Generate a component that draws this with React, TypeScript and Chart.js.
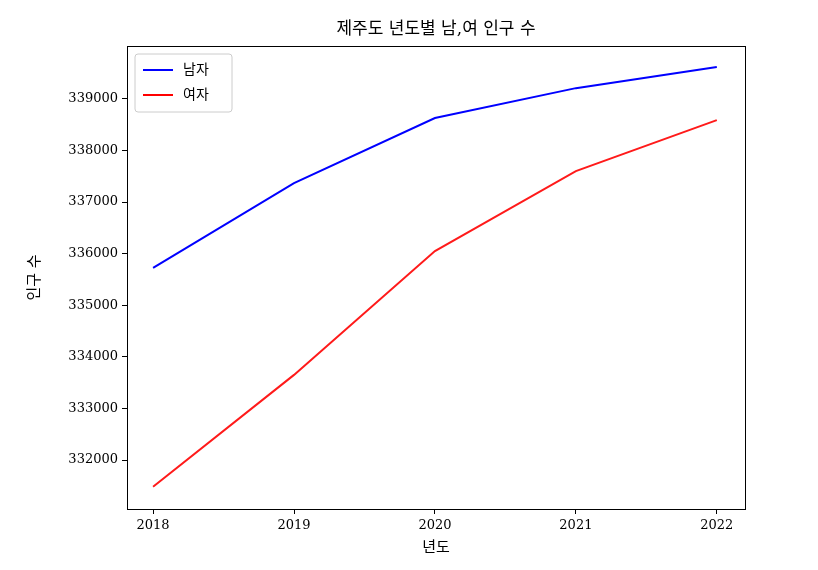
import React, { useEffect, useRef } from 'react';
import { Chart, registerables } from 'chart.js';

Chart.register(...registerables);

const years = [2018, 2019, 2020, 2021, 2022];
const male = [335725, 337370, 338630, 339210, 339620];
const female = [331480, 333650, 336050, 337600, 338590];
const yTicks = [332000, 333000, 334000, 335000, 336000, 337000, 338000, 339000];

const FONT = "'DejaVu Serif', 'Noto Sans CJK KR', serif";

const framePlugin = {
  id: 'frame',
  afterDraw(chart: any) {
    const { ctx, chartArea: a } = chart;
    ctx.save();
    ctx.strokeStyle = '#000';
    ctx.lineWidth = 1;
    ctx.strokeRect(a.left + 0.5, a.top + 0.5, a.right - a.left, a.bottom - a.top);
    ctx.fillStyle = '#000';
    ctx.textAlign = 'center';
    ctx.textBaseline = 'middle';
    ctx.font = `17px ${FONT}`;
    ctx.fillText('제주도 년도별 남,여 인구 수', (a.left + a.right) / 2, 30);
    ctx.font = `15px ${FONT}`;
    ctx.fillText('년도', (a.left + a.right) / 2, 548);
    ctx.save();
    ctx.translate(35, (a.top + a.bottom) / 2);
    ctx.rotate(-Math.PI / 2);
    ctx.fillText('인구 수', 0, 0);
    ctx.restore();
    // legend
    const lx = a.left + 8, ly = a.top + 8;
    ctx.fillStyle = '#fff';
    ctx.strokeStyle = '#ccc';
    ctx.beginPath();
    ctx.roundRect(lx, ly, 97, 58, 3);
    ctx.fill();
    ctx.stroke();
    const items = [['남자', '#0000ff'], ['여자', '#ff0000']];
    ctx.font = `14px ${FONT}`;
    ctx.textAlign = 'left';
    items.forEach(([t, c], i) => {
      const y = ly + 16 + i * 25;
      ctx.strokeStyle = c;
      ctx.lineWidth = 2;
      ctx.beginPath();
      ctx.moveTo(lx + 8, y);
      ctx.lineTo(lx + 38, y);
      ctx.stroke();
      ctx.fillStyle = '#000';
      ctx.fillText(t, lx + 48, y);
    });
    ctx.restore();
  },
};

const App: React.FC = () => {
  const ref = useRef<HTMLCanvasElement>(null);
  useEffect(() => {
    if (!ref.current) return;
    const chart = new Chart(ref.current, {
      type: 'line',
      data: {
        datasets: [
          { label: '남자', data: years.map((x, i) => ({ x, y: male[i] })), borderColor: '#0000ff', borderWidth: 2, pointRadius: 0, tension: 0 },
          { label: '여자', data: years.map((x, i) => ({ x, y: female[i] })), borderColor: '#ff1a1a', borderWidth: 2, pointRadius: 0, tension: 0 },
        ],
      },
      options: {
        animation: false,
        responsive: false,
        layout: { padding: { top: 46, right: 73, left: 0, bottom: 0 } },
        plugins: { legend: { display: false }, tooltip: { enabled: false } },
        scales: {
          x: {
            type: 'linear', min: 2017.815, max: 2022.2,
            afterBuildTicks: (s: any) => { s.ticks = years.map(v => ({ value: v })); },
            afterFit: (s: any) => { s.height = 61; },
            ticks: { color: '#000', font: { family: FONT, size: 13 }, callback: (v: any) => String(v), padding: 4 },
            grid: { drawOnChartArea: false, drawTicks: true, tickLength: 5, color: '#000' },
            border: { color: '#000' },
          },
          y: {
            type: 'linear', min: 331050, max: 340027,
            afterBuildTicks: (s: any) => { s.ticks = yTicks.map(v => ({ value: v })); },
            afterFit: (s: any) => { s.width = 127; },
            ticks: { color: '#000', font: { family: FONT, size: 13 }, callback: (v: any) => String(v), padding: 4 },
            grid: { drawOnChartArea: false, drawTicks: true, tickLength: 5, color: '#000' },
            border: { color: '#000' },
          },
        },
      },
      plugins: [framePlugin],
    });
    return () => chart.destroy();
  }, []);
  return <canvas ref={ref} width={818} height={570} style={{ display: 'block' }} />;
};

export default function Root() {
  useEffect(() => { document.body.style.margin = '0'; }, []);
  return <App />;
}
